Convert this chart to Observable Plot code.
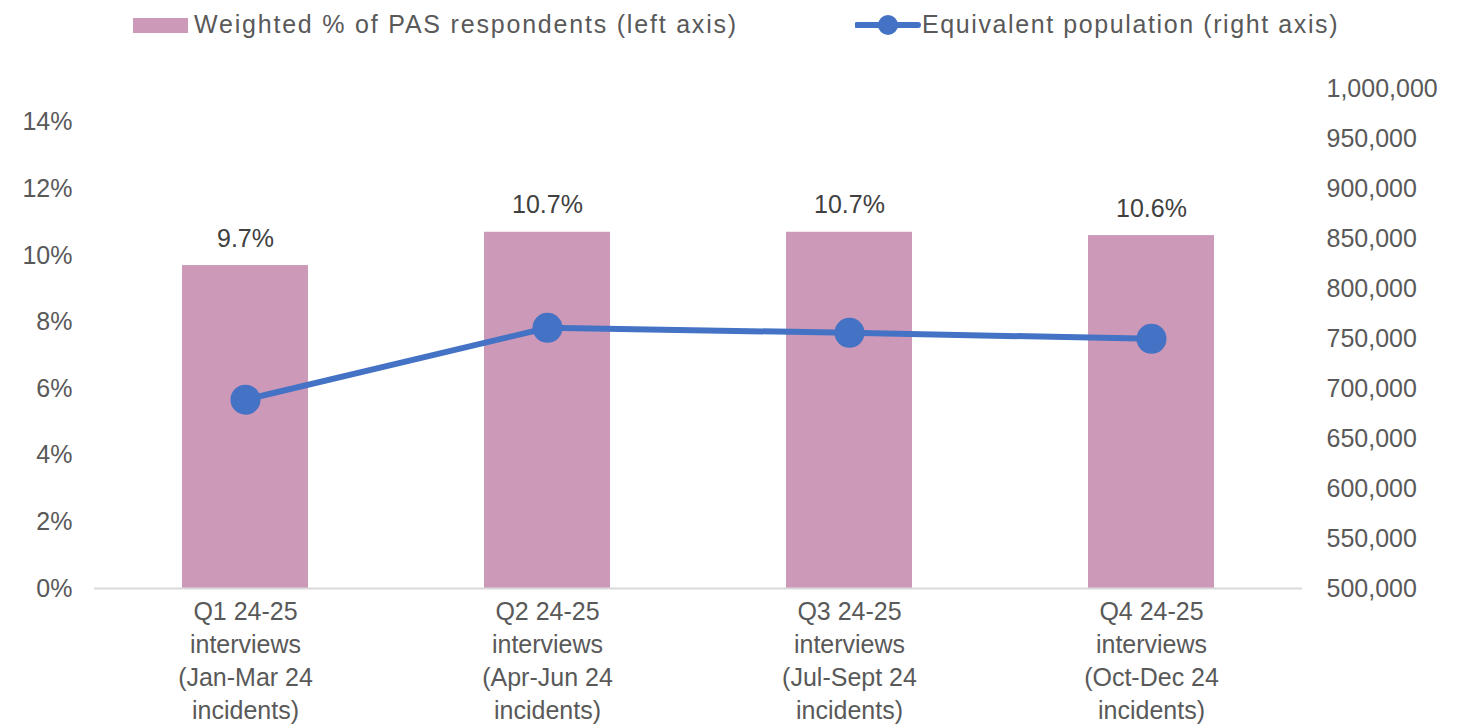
<!DOCTYPE html>
<html>
<head>
<meta charset="utf-8">
<script src="https://cdn.jsdelivr.net/npm/d3@7"></script>
<script src="https://cdn.jsdelivr.net/npm/@observablehq/plot@0.6"></script>
<style>
  html, body { margin: 0; padding: 0; background: #fff; }
  body { width: 1461px; height: 728px; overflow: hidden; font-family: "Liberation Sans", Arial, sans-serif; }
  #legend { position: relative; width: 1461px; height: 56px; }
  .lg-text { position: absolute; top: 9px; font-size: 25px; line-height: 30px; color: #595959; letter-spacing: 1.6px; white-space: nowrap; }
  .lg-swatch { position: absolute; left: 133px; top: 18px; width: 55px; height: 15px; background: #cc99b8; }
  .lg-line { position: absolute; left: 855px; top: 13px; }
  #chart svg { display: block; }
</style>
</head>
<body>
<div id="legend">
  <div class="lg-swatch"></div>
  <div class="lg-text" style="left:194px;letter-spacing:1.8px">Weighted % of PAS respondents (left axis)</div>
  <svg class="lg-line" width="66" height="26"><line x1="2" y1="12" x2="63" y2="12" stroke="#4472c4" stroke-width="6" stroke-linecap="round"/><circle cx="33" cy="12" r="10" fill="#4472c4"/></svg>
  <div class="lg-text" style="left:922px">Equivalent population (right axis)</div>
</div>
<div id="chart"></div>
<script>
// ---- data ----
const categories = [
  "Q1 24-25\ninterviews\n(Jan-Mar 24\nincidents)",
  "Q2 24-25\ninterviews\n(Apr-Jun 24\nincidents)",
  "Q3 24-25\ninterviews\n(Jul-Sept 24\nincidents)",
  "Q4 24-25\ninterviews\n(Oct-Dec 24\nincidents)"
];
const weightedPct = [0.097, 0.107, 0.107, 0.106];
const population = [689000, 761000, 756000, 750000];
const leftTicks = [0, 0.02, 0.04, 0.06, 0.08, 0.10, 0.12, 0.14];
const rightTicks = [500000, 550000, 600000, 650000, 700000, 750000, 800000, 850000, 900000, 950000, 1000000];
const leftMax = 0.15;
const rightMin = 500000;
const rightMax = 1000000;

// ---- build ----
const toLeft = v => (v - rightMin) / (rightMax - rightMin) * leftMax;
const fromLeft = p => rightMin + p / leftMax * (rightMax - rightMin);
const rows = categories.map((c, i) => ({cat: c, pct: weightedPct[i], pop: population[i], popY: toLeft(population[i])}));
const fmtPop = d3.format(",");

const chart = Plot.plot({
  width: 1461,
  height: 672,
  marginLeft: 94,
  marginRight: 159,
  marginTop: 32.6,
  marginBottom: 140,
  style: {fontFamily: '"Liberation Sans", Arial, sans-serif', fontSize: "25px", color: "#595959", background: "#fff"},
  x: {domain: categories, paddingInner: 0.583, paddingOuter: 0.2915, align: 0.5},
  y: {domain: [0, leftMax]},
  marks: [
    Plot.barY(rows, {x: "cat", y: "pct", fill: "#cc99b8"}),
    Plot.ruleY([0], {stroke: "#d9d9d9", strokeWidth: 2}),
    Plot.text(rows, {x: "cat", y: "pct", text: d => (d.pct * 100).toFixed(1) + "%", dy: -27, fill: "#404040", fontSize: 25}),
    Plot.line(rows, {x: "cat", y: "popY", stroke: "#4472c4", strokeWidth: 6, strokeLinejoin: "round"}),
    Plot.dot(rows, {x: "cat", y: "popY", r: 15, fill: "#4472c4", stroke: null}),
    Plot.axisY({anchor: "left", ticks: leftTicks, tickFormat: d => Math.round(d * 100) + "%", tickSize: 0, tickPadding: 22, label: null, fill: "#595959"}),
    Plot.axisY({anchor: "right", ticks: rightTicks.map(toLeft), tickFormat: d => fmtPop(Math.round(fromLeft(d))), tickSize: 0, tickPadding: 24, label: null, fill: "#595959"}),
    Plot.axisX({anchor: "bottom", tickSize: 0, tickPadding: 8, label: null, lineHeight: 1.32, fill: "#595959"})
  ]
});
document.getElementById("chart").appendChild(chart);
</script>
</body>
</html>
